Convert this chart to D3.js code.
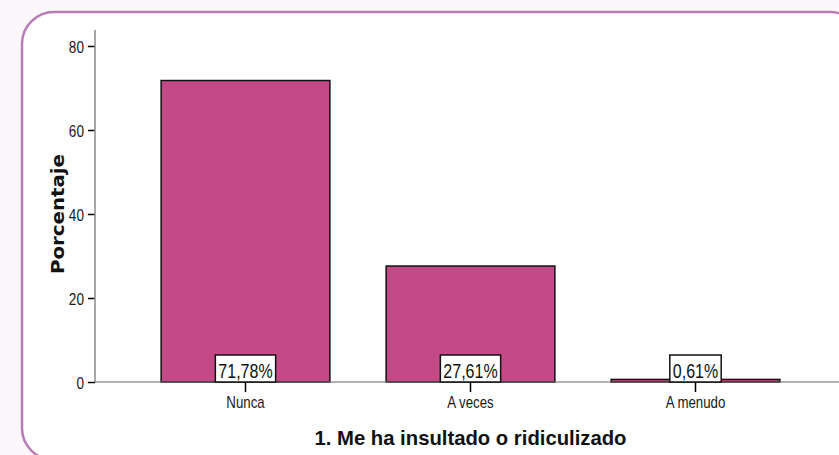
<!DOCTYPE html>
<html>
<head>
<meta charset="utf-8">
<script src="https://cdn.jsdelivr.net/npm/d3@7"></script>
<style>
  html, body { margin: 0; padding: 0; background: #fbf7fa; }
  #chart { width: 839px; height: 455px; }
</style>
</head>
<body>
<div id="chart"></div>
<script>
var categories = ["Nunca", "A veces", "A menudo"];
var values = [71.78, 27.61, 0.61];
var valueLabels = ["71,78%", "27,61%", "0,61%"];
var yTicks = [0, 20, 40, 60, 80];
var title = "1. Me ha insultado o ridiculizado";
var yTitle = "Porcentaje";

var width = 839;
var height = 455;
var font = "'Liberation Sans', Arial, sans-serif";

// squeeze text horizontally to look like a narrow font
function narrow(sel, k) {
  sel.each(function () {
    var w = this.getComputedTextLength();
    d3.select(this)
      .attr("textLength", w * k)
      .attr("lengthAdjust", "spacingAndGlyphs");
  });
}

var svg = d3.select("#chart")
  .append("svg")
  .attr("width", width)
  .attr("height", height);

// card background
svg.append("rect")
  .attr("x", 22)
  .attr("y", 12)
  .attr("width", 840)
  .attr("height", 448)
  .attr("rx", 32)
  .attr("fill", "#ffffff")
  .attr("stroke", "#b97cb4")
  .attr("stroke-width", 2.5);

var x = d3.scaleBand()
  .domain(categories)
  .range([133, 808])
  .paddingInner(0.25)
  .paddingOuter(0.125);

var y = d3.scaleLinear()
  .domain([0, 80])
  .range([382, 46]);

// bars
svg.selectAll(".bar")
  .data(values)
  .enter()
  .append("rect")
  .attr("class", "bar")
  .attr("x", (d, i) => x(categories[i]))
  .attr("y", d => y(d))
  .attr("width", x.bandwidth())
  .attr("height", d => y(0) - y(d))
  .attr("fill", "#c44a87")
  .attr("stroke", "#111")
  .attr("stroke-width", 1.5);

// y axis
var yAxis = svg.append("g")
  .attr("transform", "translate(95,0)")
  .call(d3.axisLeft(y).tickValues(yTicks).tickSize(7).tickPadding(4));
yAxis.select(".domain").remove();
yAxis.selectAll(".tick line").attr("stroke", "#000").attr("stroke-width", 1.5);
yAxis.selectAll(".tick text")
  .attr("font-family", font)
  .attr("font-size", 17)
  .attr("dy", "0.36em")
  .attr("fill", "#1a1a1a")
  .call(narrow, 0.8);
svg.append("line")
  .attr("x1", 95).attr("x2", 95)
  .attr("y1", 30).attr("y2", y(0))
  .attr("stroke", "#888")
  .attr("stroke-width", 1.5);

// x axis
svg.append("line")
  .attr("x1", 95).attr("x2", width)
  .attr("y1", y(0)).attr("y2", y(0))
  .attr("stroke", "#666")
  .attr("stroke-width", 1.2);
var xAxis = svg.append("g")
  .attr("transform", "translate(0," + y(0) + ")")
  .call(d3.axisBottom(x).tickSize(10).tickPadding(4));
xAxis.select(".domain").remove();
xAxis.selectAll(".tick line").attr("stroke", "#000").attr("stroke-width", 1.5);
xAxis.selectAll(".tick text")
  .attr("font-family", font)
  .attr("font-size", 17)
  .attr("fill", "#1a1a1a")
  .call(narrow, 0.78);

// value boxes
var labels = svg.selectAll(".vlabel")
  .data(valueLabels)
  .enter()
  .append("g")
  .attr("class", "vlabel")
  .attr("transform", (d, i) => "translate(" + (x(categories[i]) + x.bandwidth() / 2) + "," + y(0) + ")");

labels.append("text")
  .attr("text-anchor", "middle")
  .attr("y", -4)
  .attr("font-family", font)
  .attr("font-size", 20)
  .attr("fill", "#111")
  .text(d => d)
  .call(narrow, 0.8)
  .each(function () {
    var w = this.getComputedTextLength();
    d3.select(this.parentNode).insert("rect", "text")
      .attr("x", -w / 2 - 3)
      .attr("y", -27)
      .attr("width", w + 6)
      .attr("height", 27)
      .attr("fill", "#fff")
      .attr("stroke", "#111")
      .attr("stroke-width", 1.5);
  });

// titles
svg.append("text")
  .attr("x", x(categories[1]) + x.bandwidth() / 2)
  .attr("y", 445)
  .attr("text-anchor", "middle")
  .attr("font-family", font)
  .attr("font-weight", "bold")
  .attr("font-size", 21)
  .attr("fill", "#111")
  .text(title)
  .attr("textLength", 312)
  .attr("lengthAdjust", "spacingAndGlyphs");

svg.append("text")
  .attr("transform", "translate(64," + (y(0) + y(80)) / 2 + ") rotate(-90)")
  .attr("text-anchor", "middle")
  .attr("font-family", "'DejaVu Sans', Verdana, sans-serif")
  .attr("font-weight", "bold")
  .attr("font-size", 18)
  .attr("fill", "#111")
  .text(yTitle)
  .attr("textLength", 120)
  .attr("lengthAdjust", "spacingAndGlyphs");
</script>
</body>
</html>
